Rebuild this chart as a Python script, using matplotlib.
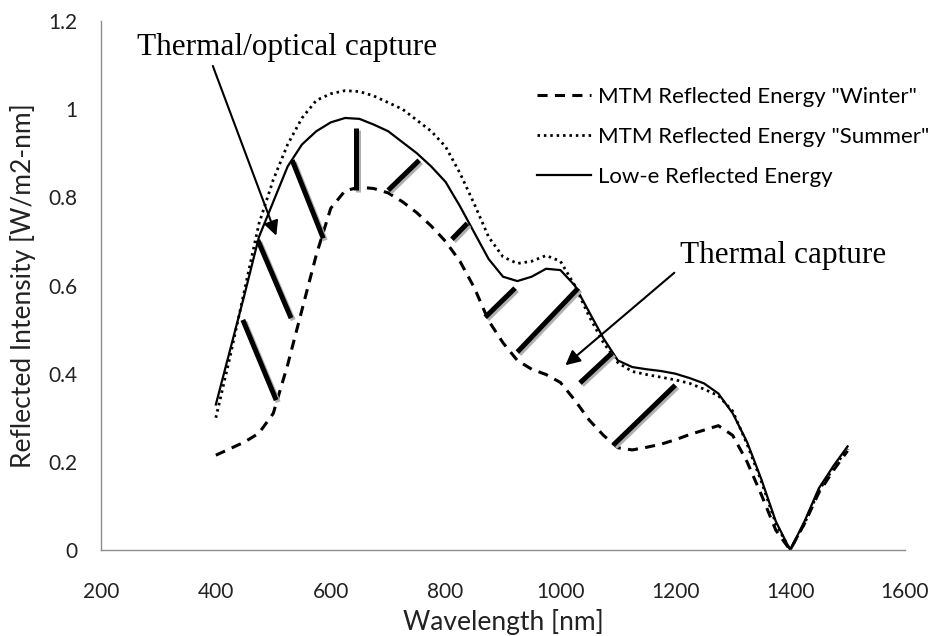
import matplotlib
matplotlib.use('Agg')
from matplotlib import pyplot as plt
from matplotlib import patheffects as pe

# wavelength grid [nm]
wavelength = [400, 425, 450, 475, 500, 525, 550, 575, 600, 625, 650, 675, 700, 725, 750,
              775, 800, 825, 850, 875, 900, 925, 950, 975, 1000, 1025, 1050, 1075, 1100,
              1125, 1150, 1175, 1200, 1225, 1250, 1275, 1300, 1325, 1350, 1375, 1400,
              1425, 1450, 1475, 1500]

winter = [0.215, 0.23, 0.245, 0.265, 0.31, 0.42, 0.545, 0.67, 0.775, 0.815, 0.823, 0.82,
          0.81, 0.79, 0.765, 0.735, 0.70, 0.655, 0.595, 0.52, 0.47, 0.43, 0.41, 0.398,
          0.38, 0.34, 0.295, 0.26, 0.232, 0.227, 0.233, 0.24, 0.25, 0.262, 0.272, 0.282,
          0.26, 0.2, 0.125, 0.045, 0.0, 0.06, 0.13, 0.18, 0.225]

summer = [0.30, 0.44, 0.59, 0.74, 0.84, 0.92, 0.98, 1.02, 1.035, 1.042, 1.04, 1.03, 1.015,
          1.0, 0.975, 0.95, 0.915, 0.855, 0.785, 0.71, 0.665, 0.65, 0.655, 0.668, 0.655,
          0.60, 0.53, 0.47, 0.425, 0.405, 0.398, 0.392, 0.386, 0.378, 0.365, 0.35, 0.315,
          0.24, 0.155, 0.06, 0.0, 0.06, 0.135, 0.185, 0.23]

low_e = [0.33, 0.455, 0.58, 0.71, 0.79, 0.87, 0.92, 0.95, 0.97, 0.98, 0.978, 0.965, 0.95,
         0.925, 0.90, 0.87, 0.835, 0.78, 0.72, 0.66, 0.62, 0.61, 0.62, 0.638, 0.635, 0.60,
         0.54, 0.48, 0.43, 0.415, 0.41, 0.406, 0.40, 0.39, 0.378, 0.355, 0.31, 0.245, 0.16,
         0.065, 0.0, 0.065, 0.14, 0.19, 0.235]

labels = ['MTM Reflected Energy "Winter"', 'MTM Reflected Energy "Summer"',
          'Low-e Reflected Energy']

# hatch strokes between the curves: (x0, y0, x1, y1)
hatch_segments = [
    (447, 0.522, 505, 0.340),
    (473, 0.703, 531, 0.526),
    (533, 0.884, 587, 0.707),
    (644, 0.957, 644, 0.816),
    (700, 0.816, 754, 0.884),
    (811, 0.705, 838, 0.741),
    (869, 0.528, 921, 0.594),
    (925, 0.449, 1031, 0.594),
    (1034, 0.379, 1090, 0.447),
    (1092, 0.238, 1200, 0.374),
]

x_ticks = [200, 400, 600, 800, 1000, 1200, 1400, 1600]
y_ticks = [0, 0.2, 0.4, 0.6, 0.8, 1.0, 1.2]
y_tick_labels = ['0', '0.2', '0.4', '0.6', '0.8', '1', '1.2']

plt.rcParams['font.family'] = ['Lato', 'DejaVu Sans']

fig = plt.figure(figsize=(9.31, 6.36), dpi=100)
ax = fig.add_axes([101 / 931, 1 - 550 / 636, 804 / 931, 529 / 636])

ax.plot(wavelength, winter, color='black', lw=2.2, linestyle=(0, (3.3, 2.4)), label=labels[0])
ax.plot(wavelength, summer, color='black', lw=2.0, linestyle=(0, (0.9, 1.4)), label=labels[1])
ax.plot(wavelength, low_e, color='black', lw=1.6, label=labels[2])

shadow = [pe.SimpleLineShadow(offset=(1.5, -1.5), shadow_color='#b0b0b0', alpha=1.0), pe.Normal()]
for x0, y0, x1, y1 in hatch_segments:
    ax.plot([x0, x1], [y0, y1], color='black', lw=3.6, solid_capstyle='butt', path_effects=shadow)

serif = 'Liberation Serif'
ax.text(263, 1.122, 'Thermal/optical capture', family=serif, fontsize=22.5, va='baseline')
ax.annotate('', xy=(507, 0.707), xytext=(393, 1.104),
            arrowprops=dict(arrowstyle='-|>', color='black', lw=1.5, mutation_scale=22))
ax.text(1209, 0.651, 'Thermal capture', family=serif, fontsize=22.5, va='baseline')
ax.annotate('', xy=(1005, 0.415), xytext=(1202, 0.633),
            arrowprops=dict(arrowstyle='-|>', color='black', lw=1.5, mutation_scale=22))

ax.set_xlim(200, 1600)
ax.set_ylim(0, 1.2)
ax.set_xticks(x_ticks)
ax.set_yticks(y_ticks)
ax.set_yticklabels(y_tick_labels)
ax.tick_params(length=0, labelsize=15, colors='#222222')
ax.tick_params(axis='x', pad=23)
ax.tick_params(axis='y', pad=17)
for side in ['top', 'right']:
    ax.spines[side].set_visible(False)
for side in ['left', 'bottom']:
    ax.spines[side].set_color('#8c8c8c')
    ax.spines[side].set_linewidth(1.0)

ax.set_xlabel('Wavelength [nm]', fontsize=19, color='#222222')
ax.set_ylabel('Reflected Intensity [W/m2-nm]', fontsize=19, color='#222222')
ax.xaxis.set_label_coords(0.5, -0.112)
ax.yaxis.set_label_coords(-0.081, 0.5)

ax.legend(loc='upper left', bbox_to_anchor=(537 / 931, 1 - 87 / 636), bbox_transform=fig.transFigure,
          frameon=False, fontsize=16, borderpad=0, borderaxespad=0, handlelength=2.45,
          handletextpad=0.3, labelspacing=0.9)

fig.savefig('out.png', dpi=100)
